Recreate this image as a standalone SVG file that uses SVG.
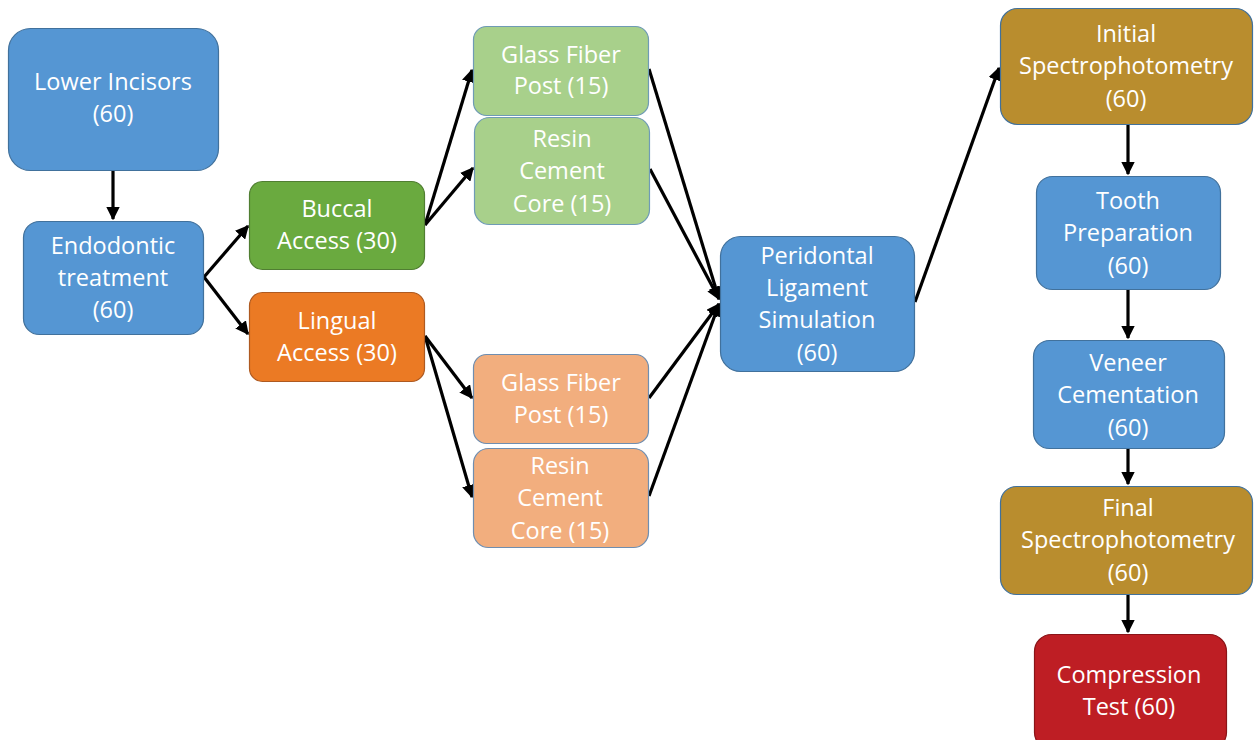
<svg xmlns="http://www.w3.org/2000/svg" width="1254" height="740" viewBox="0 0 1254 740">
<defs>
<marker id="ah" viewBox="0 0 10 10" refX="9" refY="5" markerWidth="4.2" markerHeight="4.2" markerUnits="strokeWidth" orient="auto">
<path d="M0,0 L10,5 L0,10 z" fill="#000"/>
</marker>
<style>
.n{stroke-width:1.2}
.blue{fill:#5596D3;stroke:#41719C}
.green{fill:#6AAA3F;stroke:#507E32}
.orange{fill:#EB7A24;stroke:#AE5A21}
.lgreen{fill:#A8D08B;stroke:#6F9BB5}
.lorange{fill:#F2AE7E;stroke:#6F8EB0}
.gold{fill:#B98D2E;stroke:#41719C}
.red{fill:#BE1E24;stroke:#8A1418}
text{font-family:"Open Sans","Liberation Sans",sans-serif;font-size:23.5px;fill:#fff;text-anchor:middle}
.e{stroke:#000;stroke-width:3.2;fill:none;marker-end:url(#ah)}
</style>
</defs>
<rect width="1254" height="740" fill="#fff"/>
<g id="edges">
<line class="e" x1="113" y1="171" x2="113" y2="219"/>
<line class="e" x1="204" y1="277" x2="248" y2="226"/>
<line class="e" x1="204" y1="277" x2="248" y2="334"/>
<line class="e" x1="425" y1="225" x2="472" y2="70"/>
<line class="e" x1="425" y1="225" x2="473" y2="168"/>
<line class="e" x1="425" y1="336" x2="472" y2="398"/>
<line class="e" x1="425" y1="336" x2="472" y2="497"/>
<line class="e" x1="649" y1="69" x2="719" y2="299"/>
<line class="e" x1="650" y1="169" x2="719" y2="299"/>
<line class="e" x1="649" y1="398" x2="719" y2="304"/>
<line class="e" x1="649" y1="496" x2="719" y2="304"/>
<line class="e" x1="915" y1="302" x2="999" y2="68"/>
<line class="e" x1="1128" y1="125" x2="1128" y2="174"/>
<line class="e" x1="1128" y1="290" x2="1128" y2="338"/>
<line class="e" x1="1128" y1="449" x2="1128" y2="484"/>
<line class="e" x1="1128" y1="595" x2="1128" y2="632"/>
</g>
<g id="lower-incisors"><rect class="n blue" x="8.5" y="28.5" width="210" height="142" rx="22"/><text><tspan x="113" y="90">Lower Incisors</tspan><tspan x="113" y="122">(60)</tspan></text></g>
<g id="endodontic"><rect class="n blue" x="23.5" y="221.5" width="180" height="113" rx="16"/><text><tspan x="113" y="254">Endodontic</tspan><tspan x="113" y="286">treatment</tspan><tspan x="113" y="318">(60)</tspan></text></g>
<g id="buccal"><rect class="n green" x="249.5" y="181.5" width="175" height="88" rx="13"/><text><tspan x="337" y="217">Buccal</tspan><tspan x="337" y="249">Access (30)</tspan></text></g>
<g id="lingual"><rect class="n orange" x="249.5" y="292.5" width="175" height="89" rx="13"/><text><tspan x="337" y="329">Lingual</tspan><tspan x="337" y="361">Access (30)</tspan></text></g>
<g id="gfp-buccal"><rect class="n lgreen" x="473.5" y="26.5" width="175" height="89" rx="13"/><text><tspan x="561" y="63">Glass Fiber</tspan><tspan x="561" y="94">Post (15)</tspan></text></g>
<g id="rcc-buccal"><rect class="n lgreen" x="474.5" y="117.5" width="175" height="107" rx="15"/><text><tspan x="562" y="147">Resin</tspan><tspan x="562" y="179">Cement</tspan><tspan x="562" y="212">Core (15)</tspan></text></g>
<g id="gfp-lingual"><rect class="n lorange" x="473.5" y="354.5" width="175" height="89" rx="13"/><text><tspan x="561" y="391">Glass Fiber</tspan><tspan x="561" y="423">Post (15)</tspan></text></g>
<g id="rcc-lingual"><rect class="n lorange" x="473.5" y="448.5" width="175" height="99" rx="15"/><text><tspan x="560" y="474">Resin</tspan><tspan x="560" y="506">Cement</tspan><tspan x="560" y="539">Core (15)</tspan></text></g>
<g id="pdl"><rect class="n blue" x="720.5" y="236.5" width="194" height="135" rx="20"/><text><tspan x="817" y="264">Peridontal</tspan><tspan x="817" y="296">Ligament</tspan><tspan x="817" y="328">Simulation</tspan><tspan x="817" y="361">(60)</tspan></text></g>
<g id="initial-spectro"><rect class="n gold" x="1000.5" y="8.5" width="252" height="116" rx="17"/><text><tspan x="1126" y="42">Initial</tspan><tspan x="1126" y="74">Spectrophotometry</tspan><tspan x="1126" y="107">(60)</tspan></text></g>
<g id="tooth-prep"><rect class="n blue" x="1036.5" y="176.5" width="184" height="113" rx="16"/><text><tspan x="1128" y="209">Tooth</tspan><tspan x="1128" y="241">Preparation</tspan><tspan x="1128" y="274">(60)</tspan></text></g>
<g id="veneer"><rect class="n blue" x="1033.5" y="340.5" width="191" height="108" rx="16"/><text><tspan x="1128" y="371">Veneer</tspan><tspan x="1128" y="403">Cementation</tspan><tspan x="1128" y="436">(60)</tspan></text></g>
<g id="final-spectro"><rect class="n gold" x="1000.5" y="486.5" width="252" height="108" rx="16"/><text><tspan x="1128" y="516">Final</tspan><tspan x="1128" y="548">Spectrophotometry</tspan><tspan x="1128" y="581">(60)</tspan></text></g>
<g id="compression"><rect class="n red" x="1034.5" y="634.5" width="192" height="115" rx="17"/><text><tspan x="1129" y="683">Compression</tspan><tspan x="1129" y="715">Test (60)</tspan></text></g>
</svg>
